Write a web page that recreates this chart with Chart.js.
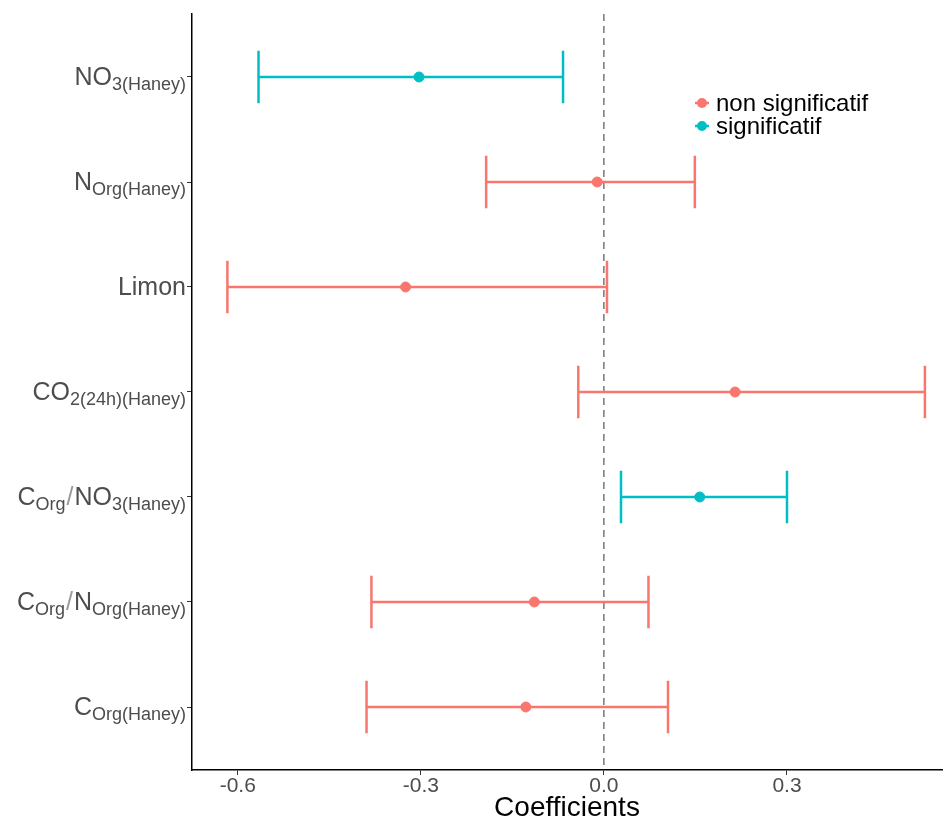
<!DOCTYPE html>
<html>
<head>
<meta charset="utf-8">
<script src="https://cdn.jsdelivr.net/npm/chart.js@4.4.0/dist/chart.umd.min.js"></script>
<style>
  body { margin: 0; background: #fff; }
  #wrap { width: 948px; height: 819px; }
</style>
</head>
<body>
<div id="wrap"><canvas id="myChart"></canvas></div>
<script>
// rows from top to bottom
const categories = ["NO3(Haney)", "NOrg(Haney)", "Limon", "CO2(24h)(Haney)", "COrg/NO3(Haney)", "COrg/NOrg(Haney)", "COrg(Haney)"];
// label pieces: 0 = normal, 1 = subscript, 2 = slash
const tickLabels = [
    [["NO", 0], ["3(Haney)", 1]],
    [["N", 0], ["Org(Haney)", 1]],
    [["Limon", 0]],
    [["CO", 0], ["2(24h)(Haney)", 1]],
    [["C", 0], ["Org", 1], ["/", 2], ["NO", 0], ["3(Haney)", 1]],
    [["C", 0], ["Org", 1], ["/", 2], ["N", 0], ["Org(Haney)", 1]],
    [["C", 0], ["Org(Haney)", 1]]
];
const coefs = [-0.303, -0.011, -0.325, 0.215, 0.157, -0.114, -0.128];
const lower = [-0.566, -0.193, -0.617, -0.042, 0.028, -0.381, -0.389];
const upper = [-0.067, 0.149, 0.005, 0.526, 0.300, 0.073, 0.105];
const significant = [true, false, false, false, true, false, false];
const groups = ["non significatif", "significatif"];
const xTicks = [-0.6, -0.3, 0.0, 0.3];

const colors = ["#F8766D", "#00BFC4"];
const n = categories.length;
const rowY = i => n - i;

const datasets = groups.map((g, gi) => ({
    label: g,
    data: coefs.map((c, i) => ({ x: c, y: rowY(i), i: i }))
        .filter(p => (significant[p.i] ? 1 : 0) === gi),
    backgroundColor: colors[gi],
    borderColor: colors[gi],
    pointRadius: 5,
    pointHoverRadius: 5
}));

const errorBars = {
    id: "errorBars",
    beforeDatasetsDraw(chart) {
        const ctx = chart.ctx, xs = chart.scales.x, ys = chart.scales.y, a = chart.chartArea;
        ctx.save();
        // zero line
        ctx.strokeStyle = "#333";
        ctx.lineWidth = 1;
        ctx.setLineDash([7, 5]);
        const x0 = xs.getPixelForValue(0);
        ctx.beginPath();
        ctx.moveTo(x0, a.top);
        ctx.lineTo(x0, a.bottom);
        ctx.stroke();
        ctx.setLineDash([]);
        ctx.lineWidth = 2.5;
        for (let i = 0; i < n; i++) {
            ctx.strokeStyle = colors[significant[i] ? 1 : 0];
            const y = ys.getPixelForValue(rowY(i));
            const yt = ys.getPixelForValue(rowY(i) + 0.25);
            const yb = ys.getPixelForValue(rowY(i) - 0.25);
            const xl = xs.getPixelForValue(lower[i]);
            const xr = xs.getPixelForValue(upper[i]);
            ctx.beginPath();
            ctx.moveTo(xl, y); ctx.lineTo(xr, y);
            ctx.moveTo(xl, yt); ctx.lineTo(xl, yb);
            ctx.moveTo(xr, yt); ctx.lineTo(xr, yb);
            ctx.stroke();
        }
        ctx.restore();
    },
    afterDraw(chart) {
        const ctx = chart.ctx, ys = chart.scales.y;
        ctx.save();
        // y labels with subscripts
        const big = "25px 'Liberation Sans', Arial, sans-serif";
        const small = "18px 'Liberation Sans', Arial, sans-serif";
        ctx.textBaseline = "alphabetic";
        ctx.textAlign = "left";
        for (let i = 0; i < n; i++) {
            const parts = tickLabels[i];
            let w = 0;
            parts.forEach(p => {
                ctx.font = p[1] === 1 ? small : big;
                w += ctx.measureText(p[0]).width + (p[1] === 2 ? 2 : 0);
            });
            let x = 186 - w;
            const base = ys.getPixelForValue(rowY(i)) + 8;
            parts.forEach(p => {
                ctx.font = p[1] === 1 ? small : big;
                ctx.fillStyle = p[1] === 2 ? "#999" : "#4D4D4D";
                const dy = p[1] === 1 ? 5 : 0;
                if (p[1] === 2) x += 1;
                ctx.fillText(p[0], x, base + dy);
                x += ctx.measureText(p[0]).width + (p[1] === 2 ? 1 : 0);
            });
        }
        // legend
        ctx.font = "24px 'Liberation Sans', Arial, sans-serif";
        ctx.textBaseline = "middle";
        groups.forEach((g, gi) => {
            const y = 103 + gi * 23;
            ctx.strokeStyle = colors[gi];
            ctx.fillStyle = colors[gi];
            ctx.lineWidth = 2.5;
            ctx.beginPath();
            ctx.moveTo(695, y); ctx.lineTo(709, y);
            ctx.stroke();
            ctx.beginPath();
            ctx.arc(702, y, 5, 0, Math.PI * 2);
            ctx.fill();
            ctx.fillStyle = "#000";
            ctx.fillText(g, 716, y + 1);
        });
        ctx.restore();
    }
};

new Chart("myChart", {
    type: "scatter",
    data: { datasets: datasets },
    options: {
        responsive: true,
        maintainAspectRatio: false,
        animation: false,
        layout: { padding: { top: 14, right: 0, left: 0, bottom: 0 } },
        plugins: {
            legend: { display: false },
            tooltip: { enabled: false }
        },
        scales: {
            x: {
                min: -0.675,
                max: 0.554,
                afterBuildTicks: s => { s.ticks = xTicks.map(v => ({ value: v })); },
                afterFit: s => { s.height = 49; },
                grid: { drawOnChartArea: false, drawTicks: true, tickLength: 5, color: "#333" },
                border: { display: true, color: "#000", width: 1.5 },
                ticks: {
                    padding: -1,
                    color: "#4D4D4D",
                    font: { family: "'Liberation Sans', Arial, sans-serif", size: 21 },
                    callback: v => v.toFixed(1)
                },
                title: {
                    display: true,
                    text: "Coefficients",
                    color: "#000",
                    padding: { top: 0, bottom: -3 },
                    font: { family: "'Liberation Sans', Arial, sans-serif", size: 28, lineHeight: 1 }
                }
            },
            y: {
                min: 0.4,
                max: n + 0.6,
                afterBuildTicks: s => { s.ticks = categories.map((c, i) => ({ value: rowY(i) })); },
                afterFit: s => { s.width = 192; },
                grid: { drawOnChartArea: false, drawTicks: true, tickLength: 5, color: "#333" },
                border: { display: true, color: "#000", width: 1.5 },
                ticks: { display: false }
            }
        }
    },
    plugins: [errorBars]
});
</script>
</body>
</html>
